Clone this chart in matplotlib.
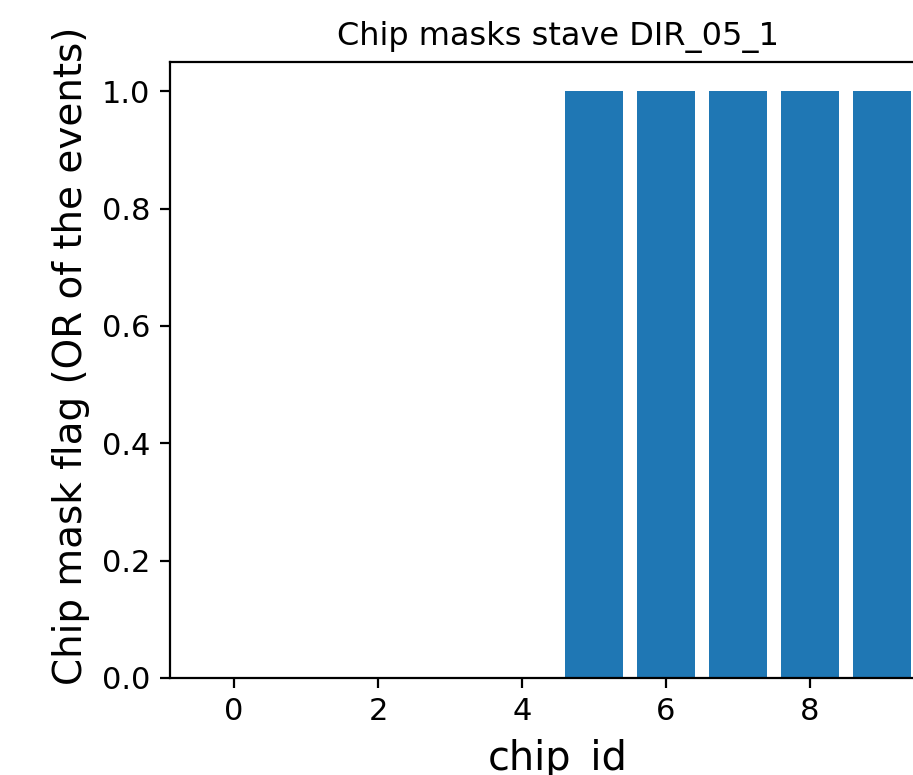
import numpy as np
import matplotlib
matplotlib.use('Agg')
import matplotlib.pyplot as plt

# chip mask flags for the stave (OR over all events)
chip_ids = [0, 1, 2, 3, 4, 5, 6, 7, 8, 9]
mask_flags = [0, 0, 0, 0, 0, 1, 1, 1, 1, 1]
stave = 'DIR_05_1'


def main():
    fig = plt.figure(figsize=(9.13 / 2, 7.75 / 2), dpi=200)
    ax = fig.add_axes([0.1862, 0.1252, 0.85, 0.7948])
    ax.bar(chip_ids, mask_flags, color='#1f77b4')
    ax.set_title('Chip masks stave ' + stave, fontsize=11.5)
    ax.set_xlabel('chip_id', fontsize=14.3, labelpad=4.6)
    ax.set_ylabel('Chip mask flag (OR of the events)', fontsize=14)
    ax.yaxis.set_label_coords(-0.103, 0.523)
    ax.tick_params(labelsize=11)
    fig.savefig('out.png', dpi=200)


if __name__ == '__main__':
    main()
